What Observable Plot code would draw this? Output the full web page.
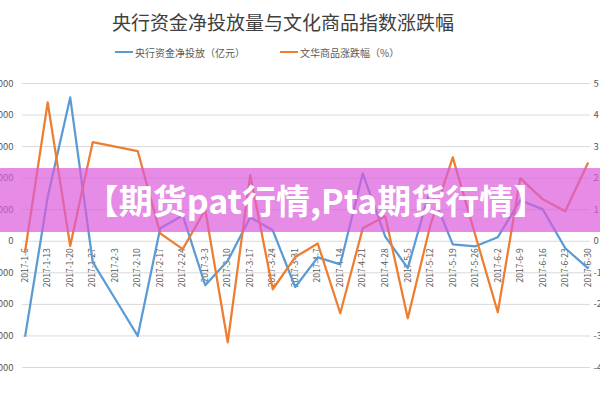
<!DOCTYPE html>
<html>
<head>
<meta charset="utf-8">
<script src="https://cdn.jsdelivr.net/npm/d3@7"></script>
<script src="https://cdn.jsdelivr.net/npm/@observablehq/plot@0.6"></script>
<style>
  html, body { margin: 0; padding: 0; background: #fff; }
  #wrap { position: relative; width: 600px; height: 400px; overflow: hidden; font-family: "Noto Sans CJK SC", sans-serif; }
  #title { position: absolute; left: 0; width: 600px; top: 9px; text-align: center; font-size: 19px; line-height: 26px; color: #404040; padding-right: 34px; box-sizing: border-box; }
  #legend { position: absolute; top: 45px; left: 0; width: 600px; height: 14px; font-size: 10px; color: #595959; }
  .item { position: absolute; top: 0; display: flex; align-items: center; height: 14px; white-space: nowrap; }
  .sw { display: inline-block; width: 18px; height: 2.5px; margin-right: 2px; }
  #chart { position: absolute; left: 0; top: 62px; }
  #banner { position: absolute; left: 0; top: 168px; width: 600px; height: 64px; background: rgba(220, 90, 220, 0.7); }
  #banner span { position: absolute; left: 0; width: 600px; padding-left: 32px; box-sizing: border-box; text-align: center; top: 0; line-height: 64px; color: #fff; font-weight: 700; font-size: 34px; white-space: nowrap; }
</style>
</head>
<body>
<div id="wrap">
  <div id="title">央行资金净投放量与文化商品指数涨跌幅</div>
  <div id="legend"></div>
  <div id="chart"></div>
  <div id="banner"><span>【期货pat行情,Pta期货行情】</span></div>
</div>
<script>
const dates = ["2017-1-6","2017-1-13","2017-1-20","2017-1-27","2017-2-3","2017-2-10","2017-2-17","2017-2-24","2017-3-3","2017-3-10","2017-3-17","2017-3-24","2017-3-31","2017-4-7","2017-4-14","2017-4-21","2017-4-28","2017-5-5","2017-5-12","2017-5-19","2017-5-26","2017-6-2","2017-6-9","2017-6-16","2017-6-23","2017-6-30"];
const netInjection = [-3000, 1400, 4560, -660, -1830, -3000, 410, 820, -1390, -620, 760, 350, -1450, -510, -730, 2150, 150, -850, 1650, -100, -160, 130, 1300, 1010, -220, -850];
const wenhuaPct = [-0.3, 4.4, -0.15, 3.14, 3.0, 2.86, 0.25, -0.25, 1.0, -3.2, 2.1, -1.52, -0.5, -0.07, -2.28, 0.41, 0.79, -2.44, 0.5, 2.66, 0.2, -2.25, 2.0, 1.33, 0.95, 2.47];
const leftTicks = [-4000, -3000, -2000, -1000, 0, 1000, 2000, 3000, 4000, 5000];
const seriesNames = ["央行资金净投放（亿元）", "文华商品涨跌幅（%）"];
const colors = ["#5b9bd5", "#ed7d31"];

const rows = dates.map((d, i) => ({date: d, net: netInjection[i], pct: wenhuaPct[i]}));

// legend
const legend = document.getElementById("legend");
const lefts = [115, 280];
seriesNames.forEach((n, i) => {
  const it = document.createElement("div");
  it.className = "item";
  it.style.left = lefts[i] + "px";
  it.innerHTML = `<span class="sw" style="background:${colors[i]}"></span><span>${n}</span>`;
  legend.appendChild(it);
});

const chart = Plot.plot({
  width: 600,
  height: 338,
  marginTop: 21,
  marginBottom: 33,
  marginLeft: 22,
  marginRight: 10,
  style: {fontFamily: "'Noto Sans CJK SC', sans-serif", background: "transparent"},
  x: {type: "point", domain: dates, padding: 0.12, round: false, axis: null},
  y: {domain: [-4000, 5000], axis: null},
  marks: [
    Plot.ruleY(leftTicks, {stroke: "#d9d9d9", strokeWidth: 1}),
    Plot.axisY({ticks: leftTicks, tickSize: 0, tickPadding: 9, fontSize: 9.5, fill: "#595959", tickFormat: d => String(d), label: null}),
    Plot.axisY({anchor: "right", ticks: leftTicks, tickSize: 0, tickPadding: 3, fontSize: 9.5, fill: "#595959", tickFormat: d => String(d / 1000), label: null}),
    Plot.text(dates, {x: d => d, y: () => 0, dy: 7, rotate: -90, textAnchor: "end", lineAnchor: "middle", fontSize: 8.5, fill: "#595959"}),
    Plot.line(rows, {x: "date", y: "net", stroke: colors[0], strokeWidth: 2.25}),
    Plot.line(rows, {x: "date", y: d => d.pct * 1000, stroke: colors[1], strokeWidth: 2.25})
  ]
});
document.getElementById("chart").appendChild(chart);
</script>
</body>
</html>
